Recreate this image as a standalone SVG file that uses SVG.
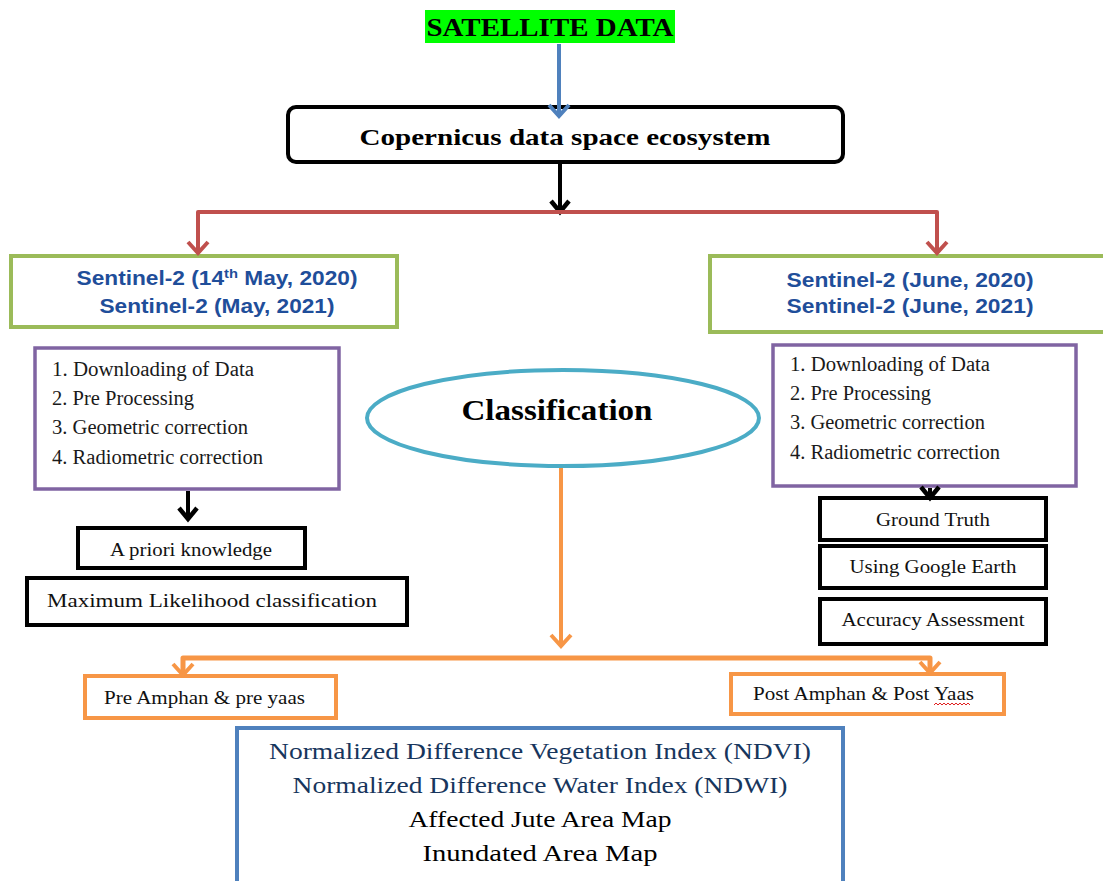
<svg xmlns="http://www.w3.org/2000/svg" width="1103" height="881" viewBox="0 0 1103 881">
  <style>
    .serif { font-family: "Liberation Serif", "Times New Roman", serif; }
    .sans { font-family: "Liberation Sans", Arial, sans-serif; }
    .bold { font-weight: bold; }
    .box { fill: #ffffff; }
    .blk { stroke: #000000; stroke-width: 4; }
    .grn { stroke: #9bbb59; stroke-width: 4; }
    .pur { stroke: #8064a2; stroke-width: 3.5; }
    .org { stroke: #f79646; stroke-width: 4; }
    .blu { stroke: #4f81bd; stroke-width: 4; }
    .sentinel { fill: #1f4e9a; font-size: 20px; }
    .step { font-size: 20px; fill: #1a1a1a; }
    .label { font-size: 18px; fill: #111111; }
    .out { font-size: 24px; }
    .line { fill: none; stroke-linejoin: round; }
  </style>
  <defs>
    <marker id="headBlue" markerUnits="userSpaceOnUse" markerWidth="20" markerHeight="24" refX="16" refY="12" orient="auto-start-reverse" viewBox="0 0 20 24">
      <path d="M5,2 L16,12 L5,22" fill="none" stroke="#4f81bd" stroke-width="4"/>
    </marker>
    <marker id="headBlack" markerUnits="userSpaceOnUse" markerWidth="20" markerHeight="24" refX="16" refY="12" orient="auto-start-reverse" viewBox="0 0 20 24">
      <path d="M5,3 L16,12 L5,21" fill="none" stroke="#000000" stroke-width="4.5"/>
    </marker>
    <marker id="headRed" markerUnits="userSpaceOnUse" markerWidth="20" markerHeight="24" refX="16" refY="12" orient="auto-start-reverse" viewBox="0 0 20 24">
      <path d="M5,2 L16,12 L5,22" fill="none" stroke="#c0504d" stroke-width="4"/>
    </marker>
    <marker id="headOrange" markerUnits="userSpaceOnUse" markerWidth="20" markerHeight="24" refX="16" refY="12" orient="auto-start-reverse" viewBox="0 0 20 24">
      <path d="M5,2 L16,12 L5,22" fill="none" stroke="#f79646" stroke-width="4"/>
    </marker>
  </defs>

  <rect width="1103" height="881" fill="#ffffff"/>

  <!-- source -->
  <g id="satellite">
    <rect x="425" y="10" width="250" height="33" fill="#00ff00"/>
    <text class="serif bold" x="550" y="36" font-size="26" text-anchor="middle" textLength="247" lengthAdjust="spacingAndGlyphs">SATELLITE DATA</text>
  </g>

  <g id="copernicus">
    <rect class="box blk" x="288" y="107" width="555" height="55" rx="8"/>
    <text class="serif bold" x="565" y="145" font-size="24" text-anchor="middle" textLength="411" lengthAdjust="spacingAndGlyphs">Copernicus data space ecosystem</text>
  </g>

  <!-- left branch -->
  <g id="sentinel-may">
    <rect class="box grn" x="11" y="256" width="386" height="71"/>
    <text class="sans bold sentinel" x="217" y="285" text-anchor="middle" textLength="281" lengthAdjust="spacingAndGlyphs">Sentinel-2 (14<tspan font-size="13" baseline-shift="super">th</tspan> May, 2020)</text>
    <text class="sans bold sentinel" x="217" y="313" text-anchor="middle" textLength="235" lengthAdjust="spacingAndGlyphs">Sentinel-2 (May, 2021)</text>
  </g>

  <g id="steps-left">
    <rect class="box pur" x="35" y="348" width="304" height="141"/>
    <text class="serif step" x="52" y="376" textLength="202" lengthAdjust="spacingAndGlyphs">1. Downloading of Data</text>
    <text class="serif step" x="52" y="405" textLength="142" lengthAdjust="spacingAndGlyphs">2. Pre Processing</text>
    <text class="serif step" x="52" y="434" textLength="196" lengthAdjust="spacingAndGlyphs">3. Geometric correction</text>
    <text class="serif step" x="52" y="464" textLength="211" lengthAdjust="spacingAndGlyphs">4. Radiometric correction</text>
  </g>

  <g id="apriori">
    <rect class="box blk" x="78" y="528" width="227" height="40"/>
    <text class="serif label" x="191" y="556" font-size="17" text-anchor="middle" textLength="162" lengthAdjust="spacingAndGlyphs">A priori knowledge</text>
  </g>

  <g id="max-likelihood">
    <rect class="box blk" x="27" y="578" width="380" height="47"/>
    <text class="serif label" x="212" y="607" font-size="20" text-anchor="middle" textLength="330" lengthAdjust="spacingAndGlyphs">Maximum Likelihood classification</text>
  </g>

  <!-- right branch -->
  <g id="sentinel-june">
    <rect class="box grn" x="710" y="256" width="400" height="76"/>
    <text class="sans bold sentinel" x="910" y="287" text-anchor="middle" textLength="247" lengthAdjust="spacingAndGlyphs">Sentinel-2 (June, 2020)</text>
    <text class="sans bold sentinel" x="910" y="313" text-anchor="middle" textLength="247" lengthAdjust="spacingAndGlyphs">Sentinel-2 (June, 2021)</text>
  </g>

  <g id="steps-right">
    <rect class="box pur" x="773" y="345" width="303" height="141"/>
    <text class="serif step" x="790" y="371" textLength="200" lengthAdjust="spacingAndGlyphs">1. Downloading of Data</text>
    <text class="serif step" x="790" y="400" textLength="141" lengthAdjust="spacingAndGlyphs">2. Pre Processing</text>
    <text class="serif step" x="790" y="429" textLength="195" lengthAdjust="spacingAndGlyphs">3. Geometric correction</text>
    <text class="serif step" x="790" y="459" textLength="210" lengthAdjust="spacingAndGlyphs">4. Radiometric correction</text>
  </g>

  <g id="ground-truth">
    <rect class="box blk" x="820" y="498" width="226" height="42"/>
    <text class="serif label" x="933" y="526" text-anchor="middle" textLength="114" lengthAdjust="spacingAndGlyphs">Ground Truth</text>
  </g>

  <g id="google-earth">
    <rect class="box blk" x="820" y="546" width="226" height="42"/>
    <text class="serif label" x="933" y="573" text-anchor="middle" textLength="167" lengthAdjust="spacingAndGlyphs">Using Google Earth</text>
  </g>

  <g id="accuracy">
    <rect class="box blk" x="820" y="599" width="226" height="45"/>
    <text class="serif label" x="933" y="626" text-anchor="middle" textLength="183" lengthAdjust="spacingAndGlyphs">Accuracy Assessment</text>
  </g>

  <!-- classification -->
  <g id="classification">
    <ellipse cx="563" cy="418" rx="196" ry="48" fill="#ffffff" stroke="#4bacc6" stroke-width="4"/>
    <text class="serif bold" x="557" y="420" font-size="30" text-anchor="middle" textLength="191" lengthAdjust="spacingAndGlyphs">Classification</text>
  </g>

  <g id="pre-event">
    <rect class="box org" x="85" y="676" width="251" height="42"/>
    <text class="serif label" x="104" y="704" font-size="17" textLength="201" lengthAdjust="spacingAndGlyphs">Pre Amphan &amp; pre yaas</text>
  </g>

  <g id="post-event">
    <rect class="box org" x="731" y="674" width="273" height="40"/>
    <text class="serif label" x="753" y="700" font-size="17" textLength="221" lengthAdjust="spacingAndGlyphs">Post Amphan &amp; Post Yaas</text>
    <path d="M934,705 l2,-2 l2,2 l2,-2 l2,2 l2,-2 l2,2 l2,-2 l2,2 l2,-2 l2,2 l2,-2 l2,2 l2,-2 l2,2 l2,-2 l2,2 l2,-2 l2,2" fill="none" stroke="#e02020" stroke-width="1"/>
  </g>

  <!-- outputs -->
  <g id="outputs">
    <rect class="box blu" x="237" y="728" width="606" height="170"/>
    <text class="serif out" x="540" y="759" fill="#17365d" text-anchor="middle" textLength="542" lengthAdjust="spacingAndGlyphs">Normalized Difference Vegetation Index (NDVI)</text>
    <text class="serif out" x="540" y="793" fill="#17365d" text-anchor="middle" textLength="495" lengthAdjust="spacingAndGlyphs">Normalized Difference Water Index (NDWI)</text>
    <text class="serif out" x="540" y="827" fill="#000000" text-anchor="middle" textLength="263" lengthAdjust="spacingAndGlyphs">Affected Jute Area Map</text>
    <text class="serif out" x="540" y="861" fill="#000000" text-anchor="middle" textLength="235" lengthAdjust="spacingAndGlyphs">Inundated Area Map</text>
  </g>

  <!-- connectors, drawn last so arrowheads sit on top of box borders -->
  <g id="connectors" class="line">
    <path d="M559,44 L559,116" stroke="#4f81bd" stroke-width="4" marker-end="url(#headBlue)"/>
    <path d="M560,164 L560,212" stroke="#000000" stroke-width="4" marker-end="url(#headBlack)"/>
    <path d="M198,253 L198,212 L937,212 L937,253" stroke="#c0504d" stroke-width="4" marker-start="url(#headRed)" marker-end="url(#headRed)"/>
    <path d="M188,491 L188,519" stroke="#000000" stroke-width="4" marker-end="url(#headBlack)"/>
    <path d="M930,488 L930,498" stroke="#000000" stroke-width="4" marker-end="url(#headBlack)"/>
    <path d="M561,468 L561,646" stroke="#f79646" stroke-width="4" marker-end="url(#headOrange)"/>
    <path d="M183,675 L183,658 L930,658 L930,673" stroke="#f79646" stroke-width="5" marker-start="url(#headOrange)" marker-end="url(#headOrange)"/>
  </g>
</svg>
